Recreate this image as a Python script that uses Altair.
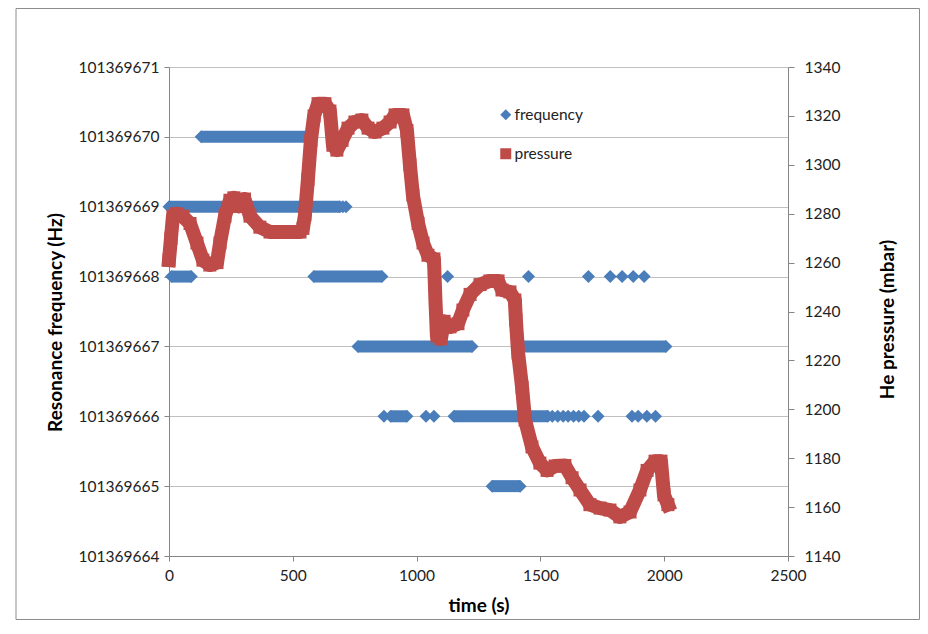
import altair as alt
import pandas as pd

BLUE = "#4A7EBB"
RED = "#BE4B48"

# Frequency: runs of consecutive samples sitting at one level (time in s)
freq_run_start = [130, 0, 10, 585, 763, 1425, 895, 1151, 1305]
freq_run_end = [575, 690, 90, 860, 1224, 2007, 961, 1530, 1418]
freq_run_level = [101369670, 101369669, 101369668, 101369668, 101369667,
                  101369667, 101369666, 101369666, 101369665]

# Frequency: isolated samples
freq_pt_time = [702, 715, 1125, 1452, 1694, 1782, 1830, 1875, 1919,
                868, 1038, 1070, 1548, 1570, 1592, 1612, 1634, 1655, 1676,
                1733, 1870, 1895, 1930, 1965]
freq_pt_level = [101369669, 101369669, 101369668, 101369668, 101369668,
                 101369668, 101369668, 101369668, 101369668,
                 101369666, 101369666, 101369666, 101369666, 101369666,
                 101369666, 101369666, 101369666, 101369666, 101369666,
                 101369666, 101369666, 101369666, 101369666, 101369666]

# He pressure (mbar)
pres_time = [0, 8, 16, 30, 55, 85, 113, 137, 165, 194, 206, 226, 246, 262,
             283, 305, 327, 367, 408, 448, 529, 541, 549, 561, 573, 586, 602,
             630, 650, 662, 678, 699, 723, 751, 779, 804, 832, 864, 893, 913,
             945, 961, 973, 985, 1006, 1026, 1046, 1070, 1076, 1082, 1098,
             1111, 1135, 1167, 1187, 1216, 1256, 1296, 1329, 1345, 1377, 1397,
             1401, 1410, 1426, 1438, 1466, 1498, 1527, 1559, 1599, 1628, 1660,
             1700, 1741, 1781, 1821, 1862, 1902, 1931, 1963, 1987, 1999, 2015]
pres_value = [1261, 1270, 1279, 1280, 1279, 1276, 1268, 1261, 1259, 1260,
              1268, 1279, 1285.5, 1286.5, 1283, 1286, 1279, 1274.5, 1272.5,
              1272.5, 1272.5, 1274, 1279.5, 1294, 1310, 1320, 1325, 1325,
              1322, 1308, 1306, 1310, 1315, 1317.5, 1318.3, 1315, 1313.4,
              1315, 1317.5, 1320.4, 1320.4, 1314, 1300, 1287.6, 1276, 1268,
              1263, 1261.5, 1245, 1230, 1228.8, 1236, 1233.7, 1235, 1240.6,
              1247, 1251, 1252.5, 1252.5, 1248.8, 1248, 1244.7, 1236.5, 1223,
              1209, 1195.6, 1184.6, 1178, 1175, 1176.8, 1177, 1172, 1167,
              1161, 1159.6, 1158.8, 1156, 1158, 1167, 1175, 1178.8, 1178.8,
              1165, 1161]

freq_ticks = [101369664, 101369665, 101369666, 101369667, 101369668,
              101369669, 101369670, 101369671]
pres_ticks = [1140, 1160, 1180, 1200, 1220, 1240, 1260, 1280, 1300, 1320, 1340]
time_ticks = [0, 500, 1000, 1500, 2000, 2500]

runs = pd.DataFrame({"start": freq_run_start, "end": freq_run_end,
                     "level": freq_run_level})
fpts = pd.DataFrame({
    "t": freq_run_start + freq_run_end + freq_pt_time,
    "level": freq_run_level + freq_run_level + freq_pt_level,
})
fpts["series"] = "frequency"
pdf = pd.DataFrame({"t": pres_time, "p": pres_value})
pdf["series"] = "pressure"

xscale = alt.Scale(domain=[0, 2500], nice=False, zero=False)
xaxis = alt.Axis(values=time_ticks, title="time (s)", grid=False, tickSize=5,
                 labelPadding=7, titleY=49, titleBaseline="middle",
                 format="d", labelFlush=False)
yfs = alt.Scale(domain=[101369664, 101369671], nice=False, zero=False)
yfa = alt.Axis(values=freq_ticks, format="d", orient="left",
               title="Resonance frequency (Hz)", grid=True, tickSize=5,
               labelPadding=5, titleAngle=-90, titleX=-114, titleY=255,
               titleAlign="center", titleBaseline="middle")
yps = alt.Scale(domain=[1140, 1340], nice=False, zero=False)
ypa = alt.Axis(values=pres_ticks, format="d", orient="right",
               title="He pressure (mbar)", grid=False, tickSize=6,
               labelPadding=10, titleAngle=-90, titleX=99, titleY=252,
               titleAlign="center", titleBaseline="middle")

legend = alt.Legend(orient="none", legendX=329, legendY=40, title=None,
                    labelFontSize=15.5, labelFont="Lato", labelColor="#222",
                    symbolSize=121, rowPadding=22, labelOffset=1,
                    symbolStrokeWidth=0)
color_scale = alt.Scale(domain=["frequency", "pressure"], range=[BLUE, RED])
shape_scale = alt.Scale(domain=["frequency", "pressure"],
                        range=["diamond", "square"])

border = alt.Chart(pd.DataFrame({"a": [0]})).mark_rect(
    fillOpacity=0, stroke="#8c8c8c", strokeWidth=1
).encode(x=alt.value(-153), x2=alt.value(750.5), y=alt.value(-58.5),
         y2=alt.value(552.5))

freq_rule = alt.Chart(runs).mark_rule(color=BLUE, strokeWidth=12).encode(
    x=alt.X("start:Q", scale=xscale, axis=xaxis),
    x2="end:Q",
    y=alt.Y("level:Q", scale=yfs, axis=yfa),
)
freq_pts = alt.Chart(fpts).mark_point(filled=True, size=169, opacity=1).encode(
    x=alt.X("t:Q", scale=xscale, axis=xaxis),
    y=alt.Y("level:Q", scale=yfs, axis=yfa),
    color=alt.Color("series:N", scale=color_scale, legend=legend),
    shape=alt.Shape("series:N", scale=shape_scale, legend=legend),
)
pres_line = alt.Chart(pdf).mark_line(color=RED, strokeWidth=14,
                                     strokeJoin="round",
                                     strokeCap="square").encode(
    x=alt.X("t:Q", scale=xscale, axis=xaxis),
    y=alt.Y("p:Q", scale=yps, axis=ypa),
)
pres_pts = alt.Chart(pdf).mark_point(filled=True, size=169, opacity=1).encode(
    x=alt.X("t:Q", scale=xscale, axis=xaxis),
    y=alt.Y("p:Q", scale=yps, axis=ypa),
    color=alt.Color("series:N", scale=color_scale, legend=legend),
    shape=alt.Shape("series:N", scale=shape_scale, legend=legend),
)

chart = alt.layer(
    border,
    alt.layer(freq_rule, freq_pts),
    alt.layer(pres_line, pres_pts),
).resolve_scale(y="independent").properties(
    width=619, height=489,
    padding={"left": 161, "top": 59, "right": 132, "bottom": 64},
    autosize=alt.AutoSizeParams(type="none"),
).configure_axis(
    labelFont="Lato", titleFont="Lato", labelFontSize=15.5, titleFontSize=19,
    titleFontWeight="bold", labelColor="#222", titleColor="#000",
    domainColor="#868686", tickColor="#868686", gridColor="#c0c0c0",
).configure_view(stroke="transparent")

chart.save("out.html", embed_options={"renderer": "svg", "actions": False})
